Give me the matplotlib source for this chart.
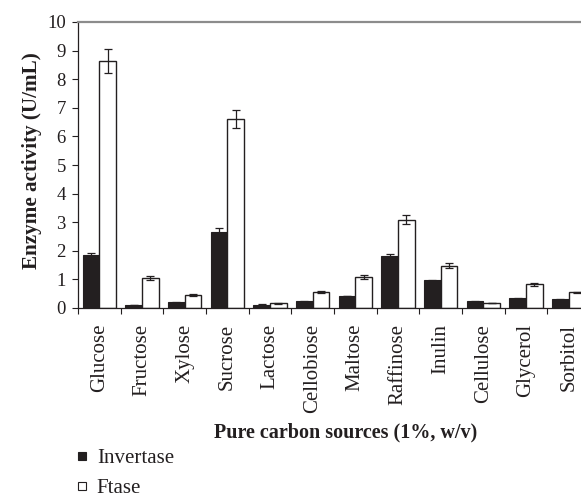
import matplotlib
matplotlib.use("Agg")
import matplotlib.pyplot as plt
import numpy as np
from matplotlib.lines import Line2D

plt.rcParams['font.family'] = ['Liberation Serif', 'DejaVu Serif']

categories = ["Glucose", "Fructose", "Xylose", "Sucrose", "Lactose", "Cellobiose",
              "Maltose", "Raffinose", "Inulin", "Cellulose", "Glycerol", "Sorbitol"]
invertase = [1.85, 0.10, 0.20, 2.66, 0.12, 0.23, 0.42, 1.82, 0.97, 0.23, 0.34, 0.30]
invertase_err = [0.08, 0.01, 0.01, 0.12, 0.01, 0.01, 0.01, 0.07, 0.02, 0.01, 0.01, 0.01]
ftase = [8.65, 1.04, 0.45, 6.61, 0.16, 0.55, 1.09, 3.08, 1.48, 0.17, 0.83, 0.55]
ftase_err = [0.42, 0.07, 0.04, 0.33, 0.01, 0.03, 0.06, 0.16, 0.08, 0.01, 0.05, 0.02]
yticks = [0, 1, 2, 3, 4, 5, 6, 7, 8, 9, 10]

W, H = 581, 499
fig = plt.figure(figsize=(W / 100, H / 100), dpi=100)
ax = fig.add_axes([78 / W, 1 - 308 / H, 512 / W, 286 / H])

x = np.arange(len(categories)) + 0.5
bw = 0.39
dark = '#231f20'
ax.bar(x - bw / 2, invertase, bw, color=dark, edgecolor=dark, linewidth=0.8, zorder=2)
ax.bar(x + bw / 2, ftase, bw, color='white', edgecolor=dark, linewidth=1.0, zorder=2)
ax.errorbar(x - bw / 2, invertase, yerr=invertase_err, fmt='none', ecolor=dark,
            elinewidth=0.9, capsize=2.6, capthick=0.9, zorder=3)
ax.errorbar(x + bw / 2, ftase, yerr=ftase_err, fmt='none', ecolor=dark,
            elinewidth=0.9, capsize=2.6, capthick=0.9, zorder=3)

ax.set_xlim(0, len(categories))
ax.set_ylim(0, 10)
ax.set_yticks(yticks)
ax.set_xticks(np.arange(len(categories) + 1))
ax.set_xticklabels([])
ax.set_xticks(x, minor=True)
ax.set_xticklabels(categories, minor=True, rotation=90, ha='center', va='top')
ax.tick_params(axis='x', which='major', direction='out', length=4, width=0.8, color=dark)
ax.tick_params(axis='x', which='minor', length=0, pad=11.5, labelsize=15, labelcolor='#231f20')
ax.tick_params(axis='y', direction='out', length=4.3, width=0.8, pad=4.5, labelsize=13.5,
               color=dark, labelcolor='#231f20')

for s in ['left', 'bottom']:
    ax.spines[s].set_color(dark)
    ax.spines[s].set_linewidth(0.9)
ax.spines['right'].set_visible(False)
ax.spines['top'].set_color('#8c8c8c')
ax.spines['top'].set_linewidth(1.6)

fig.text(346 / W, 1 - 432 / H, "Pure carbon sources (1%, w/v)", ha='center', va='center',
         fontsize=14.5, fontweight='bold', color='#231f20')
fig.text(32 / W, 1 - 161 / H, "Enzyme activity (U/mL)", ha='center', va='center',
         rotation=90, fontsize=15.2, fontweight='bold', color='#231f20')

handles = [Line2D([], [], linestyle='none', marker='s', markersize=5.2,
                  markerfacecolor=dark, markeredgecolor=dark, markeredgewidth=0.8),
           Line2D([], [], linestyle='none', marker='s', markersize=5.2,
                  markerfacecolor='white', markeredgecolor=dark, markeredgewidth=0.8)]
fig.legend(handles, ["Invertase", "Ftase"], loc='upper left',
           bbox_to_anchor=(65.5 / W, 1 - 438 / H), frameon=False, fontsize=15,
           handlelength=0.6, handletextpad=0.4, labelspacing=0.5, borderpad=0,
           labelcolor='#231f20')

fig.savefig("out.png", dpi=100)
